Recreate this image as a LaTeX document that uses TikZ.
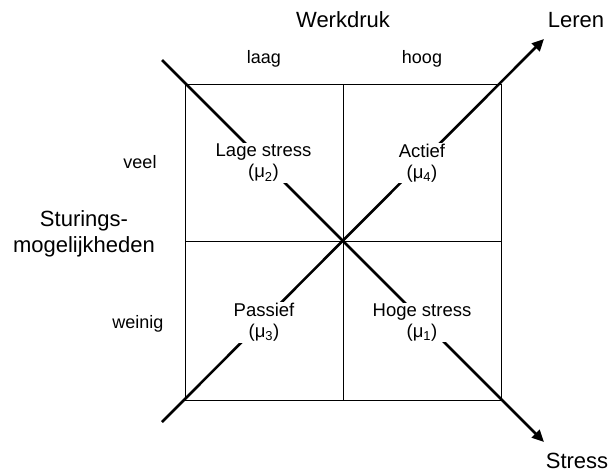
\documentclass[tikz,border=0pt]{standalone}
\usepackage{fontspec}
\setmainfont{Liberation Sans}
\usetikzlibrary{arrows.meta}
\begin{document}
\begin{tikzpicture}[x=1pt,y=-1pt,
  big/.style={font=\fontsize{22}{25}\selectfont, inner sep=0pt, align=center},
  small/.style={font=\fontsize{18}{21}\selectfont, inner sep=0pt},
  quad/.style={font=\fontsize{18.5}{21}\selectfont, align=center, fill=white, inner sep=1pt},
  thinline/.style={line width=0.8pt},
  axisline/.style={line width=2.6pt, -{Triangle[length=12pt,width=11pt]}}]
\useasboundingbox (0,0) rectangle (608,475);
% grid
\coordinate (tl) at (185,84);
\coordinate (br) at (501,400);
\coordinate (tm) at (343,84);
\coordinate (bm) at (343,400);
\coordinate (ml) at (185,241);
\coordinate (mr) at (501,241);
\draw[thinline] (tl) rectangle (br);
\draw[thinline] (tm) -- (bm);
\draw[thinline] (ml) -- (mr);
% diagonal arrows
\coordinate (lerenStart) at (162,422);
\coordinate (lerenEnd) at (544,39);
\coordinate (stressStart) at (162,60);
\coordinate (stressEnd) at (544,442);
\draw[axisline] (lerenStart) -- (lerenEnd);
\draw[axisline] (stressStart) -- (stressEnd);
% quadrant labels
\node[quad] (lage) at (263.5,163) {Lage stress\\(μ\textsubscript{2})};
\node[quad] (actief) at (422,163) {Actief\\(μ\textsubscript{4})};
\node[quad] (passief) at (264,322.5) {Passief\\(μ\textsubscript{3})};
\node[quad] (hoge) at (422,322.5) {Hoge stress\\(μ\textsubscript{1})};
% axis labels
\node[big, anchor=base] (werkdruk) at (343,27) {Werkdruk};
\node[small, anchor=base] (laag) at (264,63) {laag};
\node[small, anchor=base] (hoog) at (422,63) {hoog};
\node[small, anchor=base] (veel) at (140,168) {veel};
\node[small, anchor=base] (weinig) at (138,328) {weinig};
\node[big, anchor=base] (sturing) at (84,226) {Sturings-};
\node[big, anchor=base] (mogelijk) at (84,252) {mogelijkheden};
\node[big, anchor=base] (leren) at (576,27) {Leren};
\node[big, anchor=base] (stress) at (577,468) {Stress};
\end{tikzpicture}
\end{document}
